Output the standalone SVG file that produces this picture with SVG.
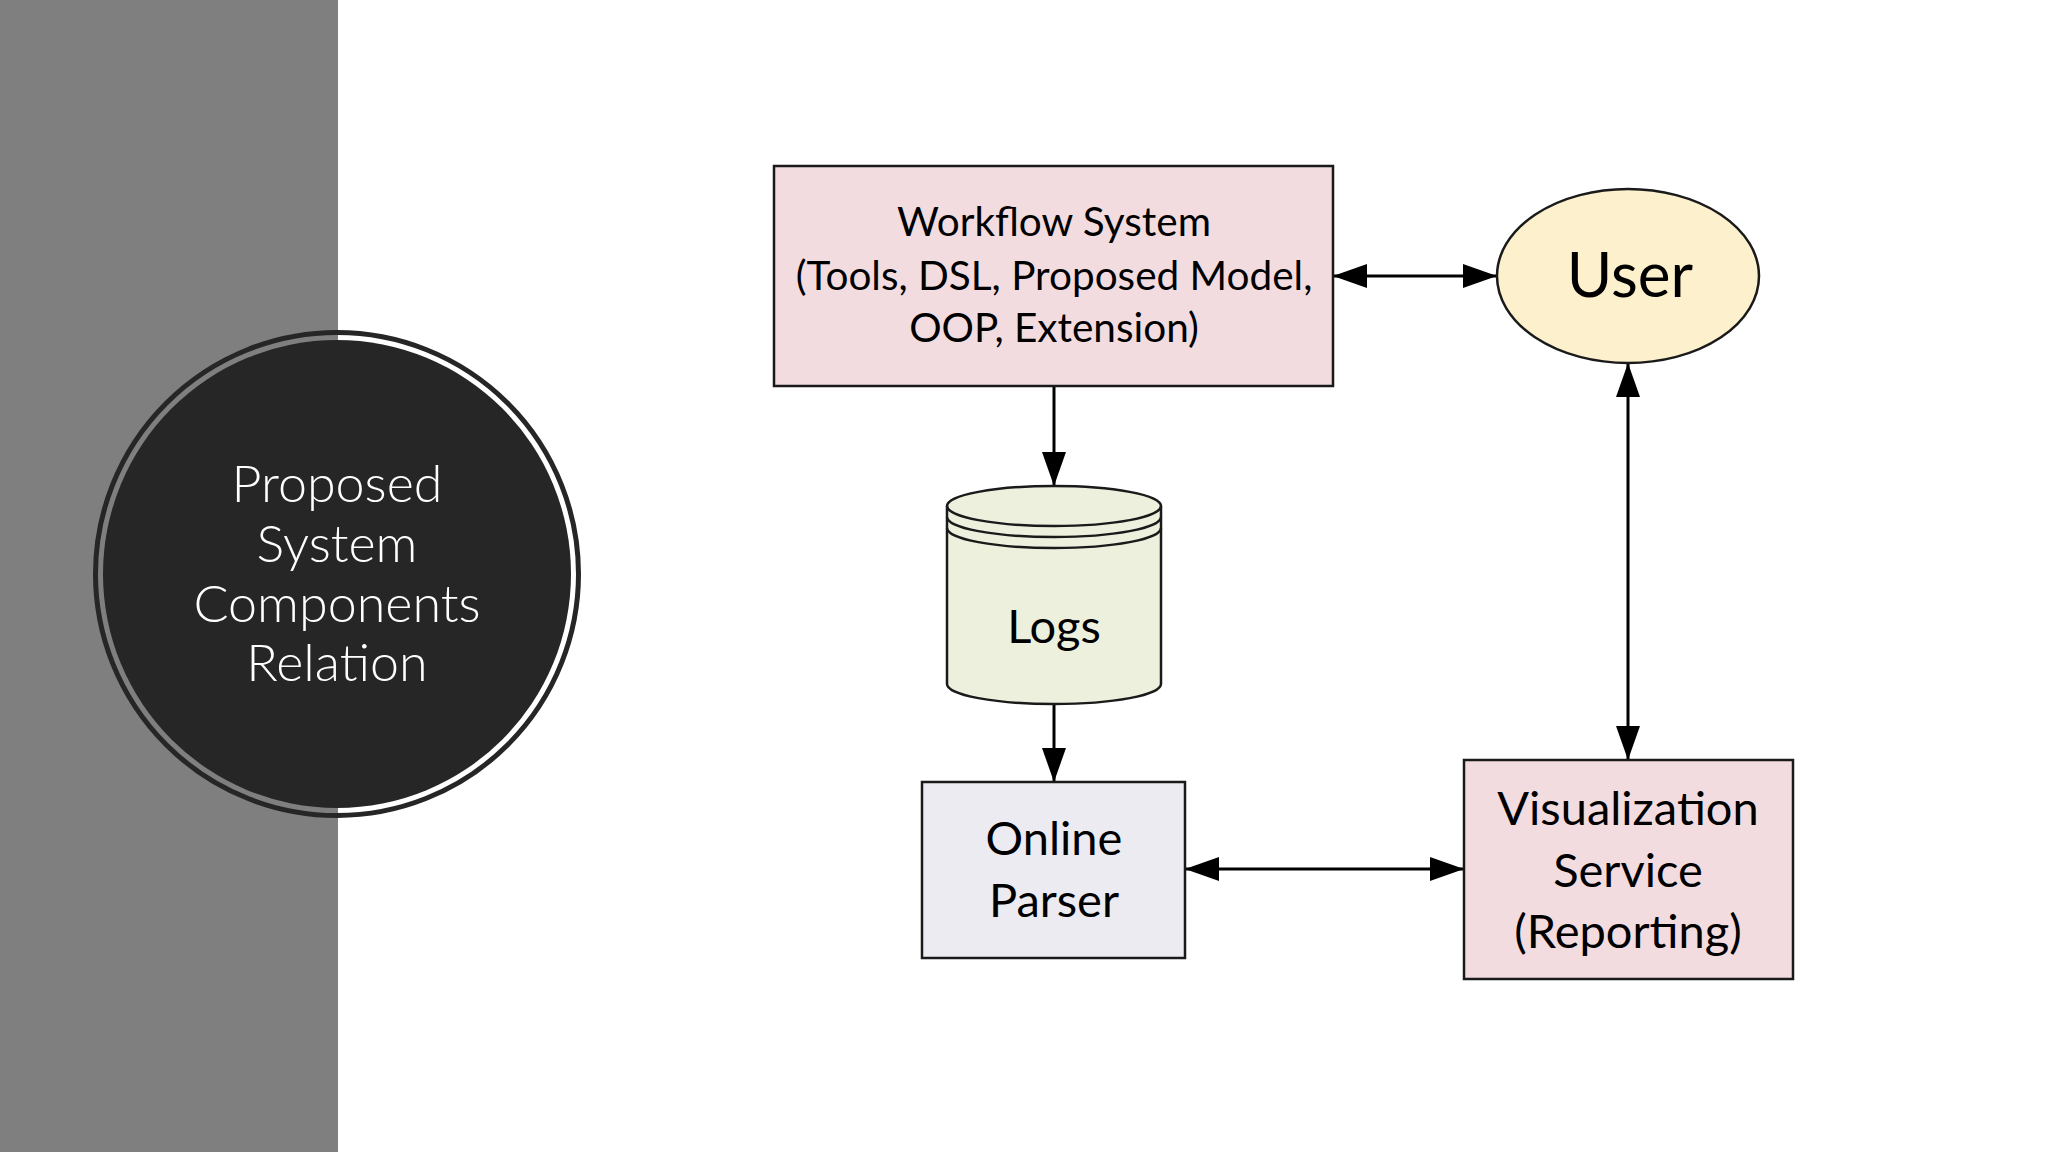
<svg xmlns="http://www.w3.org/2000/svg" width="2048" height="1152" viewBox="0 0 2048 1152">
<style>
.t{font-family:Lato,"Liberation Sans",sans-serif;fill:#000;text-anchor:middle}
.w{font-family:Lato,"Liberation Sans",sans-serif;fill:#fff;text-anchor:middle;font-weight:300;font-size:52px}
.box{stroke:#1a1a1a;stroke-width:2.5}
.ln{stroke:#000;stroke-width:3;fill:none}
</style>
<defs>
<marker id="ah" viewBox="0 0 34 24" refX="34" refY="12" markerWidth="34" markerHeight="24" markerUnits="userSpaceOnUse" orient="auto-start-reverse">
<path d="M0,0 L34,12 L0,24 Z" fill="#000"/>
</marker>
</defs>
<rect x="0" y="0" width="2048" height="1152" fill="#fff"/>
<rect x="0" y="0" width="338" height="1152" fill="#7f7f7f"/>
<g id="title">
<circle cx="337" cy="574" r="241.5" fill="none" stroke="#262626" stroke-width="5"/>
<circle cx="337" cy="574" r="234" fill="#262626"/>
<text class="w" x="337" y="502">Proposed</text>
<text class="w" x="337" y="562">System</text>
<text class="w" x="337" y="622">Components</text>
<text class="w" x="337" y="681">Relation</text>
</g>
<g id="connectors">
<line class="ln" x1="1333" y1="276" x2="1497" y2="276" marker-start="url(#ah)" marker-end="url(#ah)"/>
<line class="ln" x1="1628" y1="363" x2="1628" y2="760" marker-start="url(#ah)" marker-end="url(#ah)"/>
<line class="ln" x1="1054" y1="386" x2="1054" y2="486" marker-end="url(#ah)"/>
<line class="ln" x1="1054" y1="704" x2="1054" y2="782" marker-end="url(#ah)"/>
<line class="ln" x1="1185" y1="869" x2="1464" y2="869" marker-start="url(#ah)" marker-end="url(#ah)"/>
</g>
<g id="workflow">
<rect class="box" x="774" y="166" width="559" height="220" fill="#f2dcdf"/>
<text class="t" x="1054" y="236" font-size="40.5">Workflow System</text>
<text class="t" x="1054" y="290" font-size="40.5">(Tools, DSL, Proposed Model,</text>
<text class="t" x="1054" y="342" font-size="40.5">OOP, Extension)</text>
</g>
<g id="user">
<ellipse class="box" cx="1628" cy="276" rx="131" ry="87" fill="#fdf0cc"/>
<text class="t" x="1630" y="297" font-size="62">User</text>
</g>
<g id="logs">
<path class="box" d="M947,506 L947,684 A107,20 0 0 0 1161,684 L1161,506 A107,20 0 0 0 947,506 Z" fill="#eef0de"/>
<path class="box" d="M947,506 A107,20 0 0 0 1161,506" fill="none"/>
<path class="box" d="M947,517 A107,20 0 0 0 1161,517" fill="none"/>
<path class="box" d="M947,528 A107,20 0 0 0 1161,528" fill="none"/>
<text class="t" x="1054" y="643" font-size="47">Logs</text>
</g>
<g id="parser">
<rect class="box" x="922" y="782" width="263" height="176" fill="#ecebf1"/>
<text class="t" x="1054" y="855" font-size="47">Online</text>
<text class="t" x="1054" y="917" font-size="47">Parser</text>
</g>
<g id="visualization">
<rect class="box" x="1464" y="760" width="329" height="219" fill="#f2dcdf"/>
<text class="t" x="1628" y="825" font-size="47">Visualization</text>
<text class="t" x="1628" y="887" font-size="47">Service</text>
<text class="t" x="1628" y="948" font-size="47">(Reporting)</text>
</g>
</svg>
